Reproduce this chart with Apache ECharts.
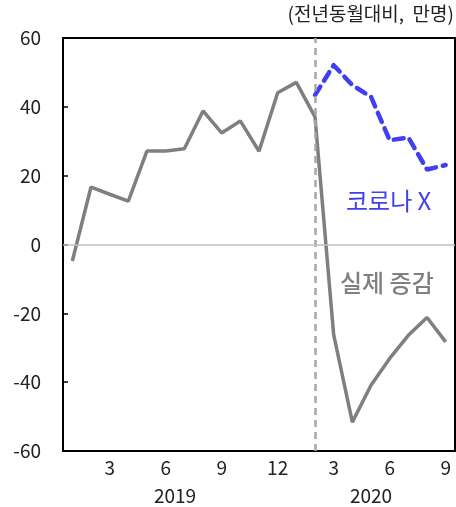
<!DOCTYPE html>
<html>
<head>
<meta charset="utf-8">
<script src="https://cdn.jsdelivr.net/npm/echarts@6/dist/echarts.min.js"></script>
<style>
  html, body { margin: 0; padding: 0; background: #fff; }
  #main { width: 456px; height: 507px; }
</style>
</head>
<body>
<div id="main"></div>
<script>
// months: 2019.1 ~ 2020.9
const months = ['1','2','3','4','5','6','7','8','9','10','11','12',
                '1','2','3','4','5','6','7','8','9'];
const years = ['2019', '2020'];
const monthsPerYear = [12, 9];
// 실제 증감 (전년동월대비, 만명)
const actual = [-4.8, 16.7, 14.6, 12.6, 27.2, 27.2, 27.8, 38.8, 32.4, 35.9, 27.1, 44.1,
                47.1, 37.1, -26.2, -51.6, -40.9, -33.1, -26.4, -21.2, -28.3];
// 코로나 X (2020.2 ~)
const noCovid = [null, null, null, null, null, null, null, null, null, null, null, null,
                 null, 43.4, 52.1, 46.3, 42.9, 30.3, 31.1, 21.8, 23.1];
const yTicks = [-60, -40, -20, 0, 20, 40, 60];
const covidStart = 13;

const FONT = '"Noto Sans CJK KR", "Noto Sans", sans-serif';

// year label positions = middle of each year's months
let yearCenters = [];
let acc = 0;
monthsPerYear.forEach(n => { yearCenters.push(acc + n / 2); acc += n; });

const chart = echarts.init(document.getElementById('main'));
chart.setOption({
    animation: false,
    grid: { left: 63, right: 1, top: 38, bottom: 56, containLabel: false },
    xAxis: [
        {
            type: 'category',
            data: months,
            boundaryGap: true,
            axisLine: { onZero: false, lineStyle: { color: '#000', width: 2 } },
            axisTick: { show: false },
            axisLabel: {
                interval: 0,
                formatter: v => (+v % 3 === 0 ? v : ''),
                color: '#222', fontSize: 19, fontFamily: FONT, margin: 7
            },
            splitLine: { show: false }
        },
        {
            type: 'value',
            position: 'bottom',
            min: 0, max: months.length,
            axisLine: { show: false },
            axisTick: { show: false },
            splitLine: { show: false },
            axisLabel: {
                customValues: yearCenters,
                formatter: v => years[yearCenters.indexOf(v)] || '',
                color: '#222', fontSize: 19, fontFamily: FONT, margin: 35
            }
        }
    ],
    yAxis: {
        type: 'value',
        min: -60, max: 60, interval: 20,
        axisLine: { show: true, lineStyle: { color: '#000', width: 2 } },
        axisTick: { show: true, inside: true, length: 5, lineStyle: { color: '#000', width: 1.5 } },
        axisLabel: {
            color: '#222', fontSize: 19, fontFamily: FONT, margin: 22,
            formatter: v => (yTicks.includes(v) ? String(v) : '')
        },
        splitLine: { show: false }
    },
    graphic: [
        { type: 'rect', shape: { x: 63, y: 38, width: 392, height: 413 },
          style: { fill: 'none', stroke: '#000', lineWidth: 2 }, silent: true, z: 0 },
        { type: 'text', right: 2, top: 4,
          style: { text: '(전년동월대비,  만명)', fill: '#222', font: '19px ' + FONT } },
        { type: 'text', left: 346, top: 189,
          style: { text: '코로나 X', fill: '#4040ee', font: '24px ' + FONT } },
        { type: 'text', left: 340, top: 271,
          style: { text: '실제 증감', fill: '#808080', font: '500 24px ' + FONT } }
    ],
    series: [
        {
            name: '실제 증감',
            type: 'line',
            data: actual,
            showSymbol: false,
            lineStyle: { color: '#7f7f7f', width: 3.5 },
            z: 3,
            markLine: {
                silent: true, symbol: 'none', label: { show: false },
                lineStyle: { color: '#c0c0c0', type: 'solid', width: 1.5 },
                data: [
                    { xAxis: covidStart, lineStyle: { color: '#a6a6a6', type: [7, 5], width: 2.5 } },
                    { yAxis: 0, lineStyle: { color: '#c0c0c0', type: 'solid', width: 1.5 } }
                ]
            }
        },
        {
            name: '코로나 X',
            type: 'line',
            data: noCovid,
            showSymbol: false,
            connectNulls: false,
            lineStyle: { color: '#4040ee', width: 4.5, type: [10, 7], cap: 'round', join: 'round' },
            z: 4
        }
    ]
});
</script>
</body>
</html>
